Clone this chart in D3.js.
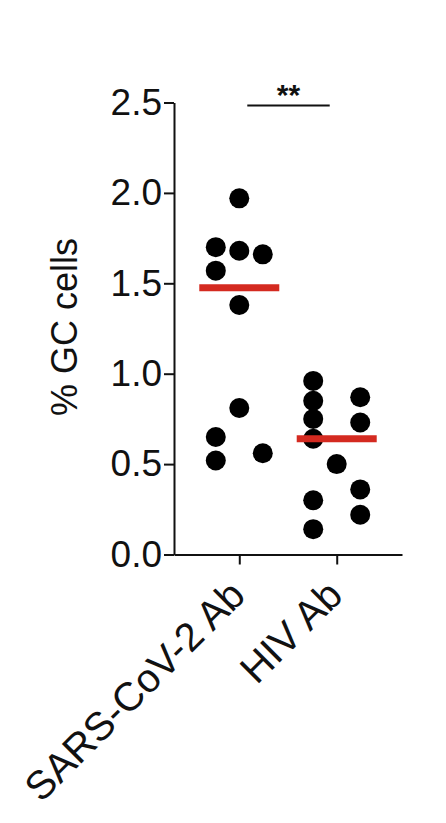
<!DOCTYPE html>
<html>
<head>
<meta charset="utf-8">
<script src="https://cdn.jsdelivr.net/npm/d3@7"></script>
<style>
  body { margin: 0; background: #fff; }
  svg { display: block; font-family: "Liberation Sans", Arial, Helvetica, sans-serif; }
</style>
</head>
<body>
<div id="chart"></div>
<script>
// groups and values
const categories = ['SARS-CoV-2 Ab', 'HIV Ab'];
const sarsValues  = [1.97, 1.70, 1.68, 1.66, 1.57, 1.38, 0.81, 0.65, 0.52, 0.56];
const sarsColumns = [0, -1, 0, 1, -1, 0, 0, -1, -1, 1];
const hivValues   = [0.96, 0.85, 0.75, 0.64, 0.50, 0.30, 0.14, 0.87, 0.73, 0.36, 0.22];
const hivColumns  = [-1, -1, -1, -1, 0, -1, -1, 1, 1, 1, 1];
const yTicks = [0, 0.5, 1.0, 1.5, 2.0, 2.5];
const yLabel = '% GC cells';
const sigLabel = '**';

const config = {
  width: 446,
  height: 823,
  axisX: 174,
  axisRight: 402,
  yTop: 102.5,
  yBottom: 554.5,
  dotRadius: 10,
  columnGap: 23.5,
  medianHalf: 40,
  red: '#d42a20'
};

const groups = [
  {name: categories[0], values: sarsValues, cols: sarsColumns},
  {name: categories[1], values: hivValues, cols: hivColumns}
];

const svg = d3.select('#chart').append('svg')
    .attr('width', config.width)
    .attr('height', config.height);

const y = d3.scaleLinear()
    .domain([0, 2.5])
    .range([config.yBottom, config.yTop]);

const x = d3.scalePoint()
    .domain(categories)
    .range([config.axisX, config.axisRight])
    .padding(0.67);

// y axis
const yAxis = svg.append('g')
    .attr('transform', `translate(${config.axisX},0)`)
    .call(d3.axisLeft(y)
      .tickValues(yTicks)
      .tickFormat(d3.format('.1f'))
      .tickSize(10)
      .tickSizeOuter(0)
      .tickPadding(2));
yAxis.selectAll('path, line').attr('stroke', '#111').attr('stroke-width', 2);
yAxis.selectAll('text').attr('font-size', 37).attr('fill', '#111')
    .attr('font-family', '"Liberation Sans", Arial, sans-serif');

// x axis
const xAxis = svg.append('g')
    .attr('transform', `translate(0,${config.yBottom})`)
    .call(d3.axisBottom(x).tickSize(10).tickSizeOuter(0).tickFormat(''));
xAxis.selectAll('path, line').attr('stroke', '#111').attr('stroke-width', 2);

svg.append('g').selectAll('text')
    .data(categories)
  .join('text')
    .attr('transform', d => `translate(${x(d) + 8},${config.yBottom + 43}) rotate(-45)`)
    .attr('text-anchor', 'end')
    .attr('font-size', 40)
    .attr('fill', '#111')
    .text(d => d);

// y label
svg.append('text')
    .attr('transform', 'translate(77,327) rotate(-90)')
    .attr('text-anchor', 'middle')
    .attr('font-size', 36)
    .attr('fill', '#111')
    .text(yLabel);

// dots
const points = groups.flatMap(g => g.values.map((v, i) => ({group: g.name, value: v, col: g.cols[i]})));
svg.append('g').selectAll('circle')
    .data(points)
  .join('circle')
    .attr('cx', d => x(d.group) + d.col * config.columnGap)
    .attr('cy', d => y(d.value))
    .attr('r', config.dotRadius)
    .attr('fill', '#000');

// medians
svg.append('g').selectAll('line')
    .data(groups)
  .join('line')
    .attr('x1', d => x(d.name) - config.medianHalf)
    .attr('x2', d => x(d.name) + config.medianHalf)
    .attr('y1', d => y(d3.median(d.values)))
    .attr('y2', d => y(d3.median(d.values)))
    .attr('stroke', config.red)
    .attr('stroke-width', 7);

// significance bar
const sigY = 105.5;
const x1 = x(categories[0]) + 8, x2 = x(categories[1]) - 7;
svg.append('line')
    .attr('x1', x1).attr('x2', x2)
    .attr('y1', sigY).attr('y2', sigY)
    .attr('stroke', '#111')
    .attr('stroke-width', 2);
svg.append('text')
    .attr('x', (x1 + x2) / 2)
    .attr('y', sigY - 1)
    .attr('text-anchor', 'middle')
    .attr('font-size', 30)
    .attr('font-weight', 'bold')
    .attr('fill', '#111')
    .text(sigLabel);
</script>
</body>
</html>
